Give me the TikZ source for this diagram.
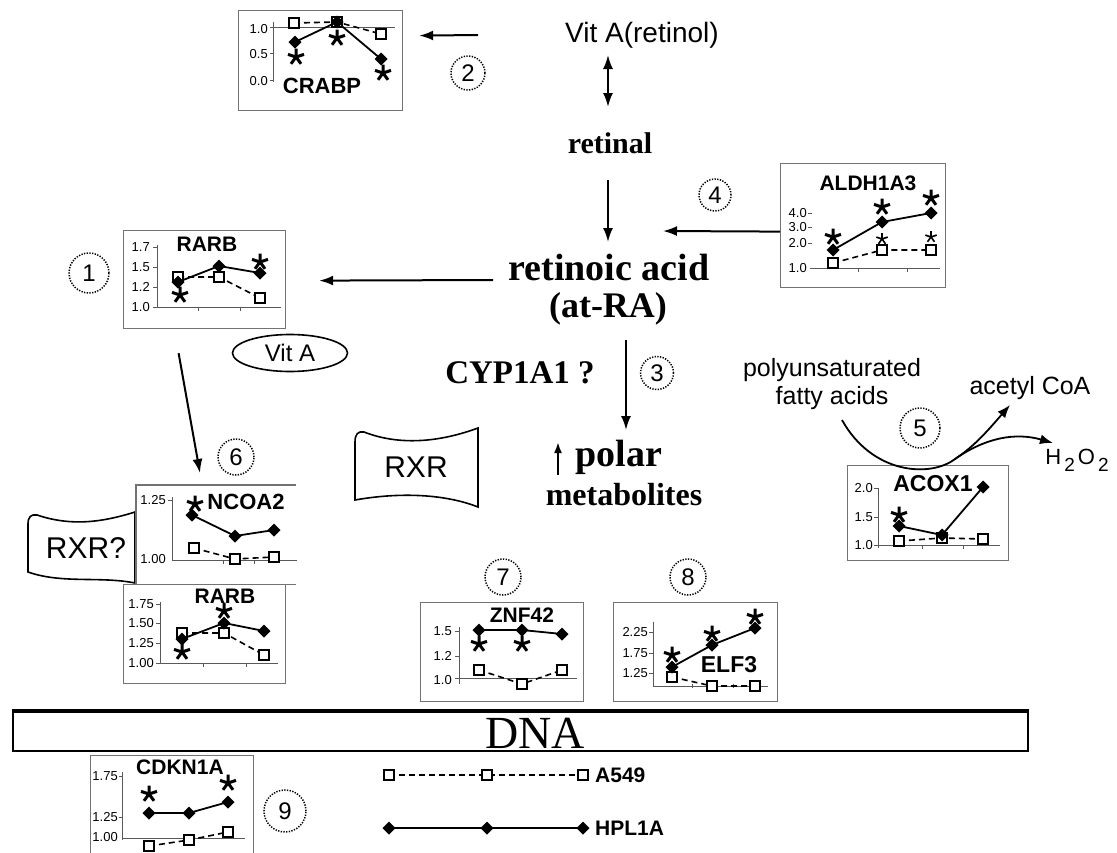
\documentclass[tikz,border=0pt]{standalone}
\usepackage{fontspec}
\setmainfont{Liberation Serif}
\setsansfont{Liberation Sans}
\usetikzlibrary{arrows.meta,shapes.geometric}
\newcommand{\fdm}[2]{\fill (#1,#2) +(0,-6.5) -- +(6.5,0) -- +(0,6.5) -- +(-6.5,0) -- cycle;}
\newcommand{\osq}[2]{\draw[line width=1.3pt,fill=white] (#1,#2) +(-5,-5) rectangle +(5,5);}
\newcommand{\astk}[2]{\draw[line width=3pt] (#1,#2) -- +(0,-8.5) (#1,#2) -- +(8,-2.6) (#1,#2) -- +(5,6.8) (#1,#2) -- +(-5,6.8) (#1,#2) -- +(-8,-2.6);}
\newcommand{\astks}[2]{\draw[line width=1.6pt] (#1,#2) -- +(0,-6) (#1,#2) -- +(5.7,-1.9) (#1,#2) -- +(3.5,4.8) (#1,#2) -- +(-3.5,4.8) (#1,#2) -- +(-5.7,-1.9);}
\begin{document}
\begin{tikzpicture}[x=1pt,y=-1pt,
 arr/.style={line width=2pt,-{Latex[length=14pt,width=10pt]}},
 box/.style={draw=black!55,line width=1.2pt,inner sep=0pt,anchor=north west},
 axl/.style={line width=0.8pt,black!65},
 lbl/.style={font=\sffamily\fontsize{13}{13}\selectfont,anchor=east,inner sep=0pt},
 ttl/.style={font=\sffamily\bfseries\fontsize{21}{21}\selectfont,inner sep=0pt},
 sline/.style={line width=1.8pt},
 dline/.style={line width=1.6pt,dash pattern=on 6pt off 4pt},
 num/.style={circle,draw,line width=1.5pt,dash pattern=on 1.3pt off 1.4pt,inner sep=0pt,font=\sffamily\fontsize{24}{24}\selectfont},
 big/.style={font=\bfseries\fontsize{32}{36}\selectfont,inner sep=0pt},
 sans/.style={font=\sffamily\fontsize{25}{28}\selectfont,inner sep=0pt,align=center},
 shp/.style={line width=1.6pt}
]
\useasboundingbox (0,0) rectangle (1117,852);

% ---------- main texts
\node[sans,font=\sffamily\fontsize{28}{30}\selectfont] (vita) at (642,35) {Vit A(retinol)};
\node[big,font=\bfseries\fontsize{30}{30}\selectfont] (retinal) at (610,143) {retinal};
\node[big,font=\bfseries\fontsize{38}{38}\selectfont] (ra) at (609,267) {retinoic acid};
\node[big,font=\bfseries\fontsize{36}{36}\selectfont] (atra) at (608,309) {(at-RA)};
\node[big,font=\bfseries\fontsize{33}{33}\selectfont] (cyp) at (520,373) {CYP1A1 ?};
\node[big,font=\bfseries\fontsize{38}{38}\selectfont] (polar) at (619,457) {polar};
\node[big] (metab) at (624,495) {metabolites};
\node[sans] (fatty) at (832,384) {polyunsaturated\\fatty acids};
\node[sans] (acetyl) at (1030,388) {acetyl CoA};
\node[sans,font=\sffamily\fontsize{22}{22}\selectfont] (h2o2) at (1077,460) {H\kern3pt\raisebox{-7pt}{\fontsize{19}{19}\selectfont 2}\kern3pt O\kern3pt\raisebox{-7pt}{\fontsize{19}{19}\selectfont 2}};

% ---------- circled numbers
\node[num,minimum size=40pt] (n1) at (89,273) {1};
\node[num,minimum size=34pt] (n2) at (468,73) {2};
\node[num,minimum size=33pt] (n3) at (657,373) {3};
\node[num,minimum size=32pt] (n4) at (715,195) {4};
\node[num,minimum size=40pt] (n5) at (920,428) {5};
\node[num,minimum size=36pt] (n6) at (236,457) {6};
\node[num,minimum size=36pt] (n7) at (503,577) {7};
\node[num,minimum size=36pt] (n8) at (688,577) {8};
\node[num,minimum size=42pt] (n9) at (285,811) {9};

% ---------- Vit A oval, RXR shapes
\node[ellipse,draw,line width=1.6pt,minimum width=115pt,minimum height=37pt,inner sep=0pt,font=\sffamily\fontsize{24}{24}\selectfont] (vitaoval) at (290,353) {Vit A};
\draw[shp] (355,442) .. controls (355,434) and (358,431) .. (364,432) .. controls (400,446) and (440,442) .. (478,428) -- (478,507) .. controls (445,494) and (400,492) .. (355,500) -- cycle;
\node[font=\sffamily\fontsize{30}{30}\selectfont,inner sep=0pt] (rxr) at (416,467) {RXR};
\draw[shp] (28,524) .. controls (28,517) and (31,514) .. (37,515) .. controls (70,526) and (100,523) .. (135,512) -- (135,583) .. controls (100,576) and (62,584) .. (28,572) -- cycle;
\node[font=\sffamily\fontsize{30}{30}\selectfont,inner sep=0pt] (rxrq) at (86,548) {RXR?};

% ---------- CRABP
\node[box,minimum width=164pt,minimum height=100pt] (crabp) at (238,10) {};
\draw[axl] (273,22) -- (273,82) (270,27) -- (395,27) (270,53) -- (273,53) (270,80) -- (273,80);
\node[lbl] at (268,29) {1.0};
\node[lbl] at (268,54) {0.5};
\node[lbl] at (268,81) {0.0};
\draw[dline] (294,23) -- (337,22) -- (381,34);
\draw[sline] (295,42) -- (337,22) -- (381,59);
\osq{294}{23}\osq{337}{22}\osq{381}{34}
\fdm{295}{42}\fdm{337}{22}\fdm{381}{59}
\astk{296}{57}\astk{337}{38}\astk{383}{73}
\node[ttl,font=\sffamily\bfseries\fontsize{22}{22}\selectfont] at (322,86) {CRABP};

% ---------- ALDH1A3
\node[box,minimum width=165pt,minimum height=124pt] (aldh) at (780,163) {};
\draw[axl] (810,268) -- (940,268) (858,268) -- (858,272) (907,268) -- (907,272);
\foreach \v/\y in {4.0/213,3.0/227,2.0/243}{\node[lbl] at (807,\y) {\v}; \draw[axl] (808,\y) -- (812,\y);}
\node[lbl] at (807,268) {1.0};
\draw[dline] (833,263) -- (882,250) -- (931,250);
\draw[sline] (833,250) -- (882,222) -- (931,213);
\osq{833}{263}\osq{882}{250}\osq{931}{250}
\fdm{833}{250}\fdm{882}{222}\fdm{931}{213}
\astk{833}{237}\astk{882}{207}\astk{931}{198}
\astks{882}{239}\astks{931}{237}
\node[ttl] at (868,183) {ALDH1A3};

% ---------- RARB (top)
\node[box,minimum width=162pt,minimum height=98pt] (rarba) at (123,230) {};
\draw[axl] (157,245) -- (157,307) (157,307) -- (281,307) (198,307) -- (198,311) (240,307) -- (240,311);
\foreach \v/\y in {1.7/247,1.5/267,1.2/287,1.0/307}{\node[lbl] at (150,\y) {\v}; \draw[axl] (153,\y) -- (157,\y);}
\draw[dline] (178,277) -- (219,277) -- (260,298);
\draw[sline] (178,282) -- (219,266) -- (260,273);
\osq{178}{277}\osq{219}{277}\osq{260}{298}
\fdm{178}{282}\fdm{219}{266}\fdm{260}{273}
\astk{180}{295}\astk{260}{262}
\node[ttl] at (207,244) {RARB};

% ---------- NCOA2
\node[inner sep=0pt,anchor=north west,minimum width=160pt,minimum height=99pt] (ncoa) at (136,485) {};
\draw[black!55,line width=1.2pt] (ncoa.north east) -- (ncoa.north west) -- (ncoa.south west) -- (ncoa.south east);
\draw[axl] (172,497) -- (172,560) (172,560) -- (297,560) (223,560) -- (223,564) (254,560) -- (254,564);
\node[lbl] at (166,500) {1.25}; \draw[axl] (168,500) -- (172,500);
\node[lbl] at (166,559) {1.00};
\draw[dline] (194,548) -- (235,559) -- (274,557);
\draw[sline] (192,515) -- (235,536) -- (274,530);
\osq{194}{548}\osq{235}{559}\osq{274}{557}
\fdm{192}{515}\fdm{235}{536}\fdm{274}{530}
\astk{195}{504}
\node[ttl,font=\sffamily\bfseries\fontsize{22}{22}\selectfont] at (246,502) {NCOA2};

% ---------- RARB (bottom)
\node[box,fill=white,minimum width=162pt,minimum height=99pt] (rarbb) at (123,584) {};
\draw[axl] (160,602) -- (160,663) (160,663) -- (278,663) (203,663) -- (203,667) (246,663) -- (246,667);
\foreach \v/\y in {1.75/604,1.50/623,1.25/643,1.00/663}{\node[lbl] at (154,\y) {\v}; \draw[axl] (156,\y) -- (160,\y);}
\draw[dline] (182,633) -- (224,633) -- (264,655);
\draw[sline] (182,639) -- (224,623) -- (264,631);
\osq{182}{633}\osq{224}{633}\osq{264}{655}
\fdm{182}{639}\fdm{224}{623}\fdm{264}{631}
\astk{182}{652}\astk{224}{611}
\node[ttl] at (225,596) {RARB};

% ---------- ZNF42
\node[box,minimum width=163pt,minimum height=99pt] (znf) at (420,602) {};
\draw[axl] (459,627) -- (459,684) (455,678) -- (577,678);
\foreach \v/\y in {1.5/631,1.2/656}{\node[lbl] at (452,\y) {\v}; \draw[axl] (455,\y) -- (459,\y);}
\node[lbl] at (452,680) {1.0};
\draw[sline] (479,630) -- (522,630) -- (562,634);
\draw[dline] (479,670) -- (522,684) -- (562,670);
\osq{479}{670}\osq{522}{684}\osq{562}{670}
\fdm{479}{630}\fdm{522}{630}\fdm{562}{634}
\astk{479}{644}\astk{522}{644}
\node[ttl] at (522,615) {ZNF42};

% ---------- ELF3
\node[box,minimum width=164pt,minimum height=99pt] (elf) at (613,602) {};
\draw[axl] (653,622) -- (653,686) (653,686) -- (768,686) (692,684) -- (692,688) (733,684) -- (733,688);
\foreach \v/\y in {2.25/632,1.75/653,1.25/673}{\node[lbl] at (648,\y) {\v}; \draw[axl] (649,\y) -- (653,\y);}
\draw[sline] (672,667) -- (712,645) -- (755,628);
\draw[dline] (672,677) -- (712,686) -- (755,686);
\osq{672}{677}\osq{712}{686}\osq{755}{686}
\fdm{672}{667}\fdm{712}{645}\fdm{755}{628}
\astk{672}{655}\astk{712}{634}\astk{755}{617}
\node[ttl,font=\sffamily\bfseries\fontsize{23}{23}\selectfont] at (729,665) {ELF3};

% ---------- ACOX1
\node[box,minimum width=161pt,minimum height=95pt] (acox) at (847,465) {};
\draw[axl] (878,488) -- (878,548) (878,545) -- (1000,545) (922,545) -- (922,549) (963,545) -- (963,549);
\foreach \v/\y in {2.0/488,1.5/517,1.0/545}{\node[lbl] at (873,\y) {\v}; \draw[axl] (874,\y) -- (878,\y);}
\draw[sline] (899,526) -- (942,535) -- (983,487);
\draw[dline] (899,541) -- (942,538) -- (983,539);
\osq{899}{541}\osq{942}{538}\osq{983}{539}
\fdm{899}{526}\fdm{942}{535}\fdm{983}{487}
\astk{899}{515}
\node[ttl,font=\sffamily\bfseries\fontsize{23}{23}\selectfont] at (933,484) {ACOX1};

% ---------- DNA
\node[draw,line width=2pt,inner sep=0pt,anchor=north west,minimum width=1015pt,minimum height=39pt] (dna) at (12,711) {};
\draw[line width=3.5pt] (dna.north west) -- (dna.north east);
\node[font=\fontsize{46}{46}\selectfont,inner sep=0pt] (dnatxt) at (535,733) {DNA};

% ---------- CDKN1A
\node[box,minimum width=163pt,minimum height=110pt] (cdkn) at (90,755) {};
\draw[axl] (122,772) -- (122,840) (122,838) -- (245,838);
\foreach \v/\y in {1.75/776,1.25/817}{\node[lbl] at (118,\y) {\v}; \draw[axl] (119,\y) -- (122,\y);}
\node[lbl] at (118,837) {1.00};
\draw[sline] (149,813) -- (189,813) -- (228,802);
\draw[dline] (149,846) -- (189,840) -- (228,832);
\osq{149}{846}\osq{189}{840}\osq{228}{832}
\fdm{149}{813}\fdm{189}{813}\fdm{228}{802}
\astk{149}{794}\astk{228}{783}
\node[ttl] at (180,767) {CDKN1A};

% ---------- legend
\draw[dline] (389,775) -- (583,775);
\osq{389}{775}\osq{487}{775}\osq{583}{775}
\draw[sline] (389,828) -- (583,828);
\fdm{389}{828}\fdm{487}{828}\fdm{583}{828}
\node[ttl,anchor=west] (la) at (595,775) {A549};
\node[ttl,anchor=west] (lh) at (595,828) {HPL1A};

% ---------- connectors
\draw[line width=2pt,{Latex[length=14pt,width=10pt]}-{Latex[length=14pt,width=10pt]}] ([xshift=-34pt,yshift=-20pt]vita.center) -- ([xshift=-2pt,yshift=36pt]retinal.center);
\draw[arr] ([xshift=-164pt]vita.center) -- ([xshift=16pt,yshift=25pt]crabp.east);
\draw[arr] ([xshift=-2pt,yshift=-37pt]retinal.center) -- ([xshift=-1pt,yshift=25pt]ra.center);
\draw[arr] ([yshift=-6pt]aldh.west) -- ([xshift=54pt,yshift=36pt]ra.center);
\draw[arr] ([xshift=-116pt,yshift=-13pt]ra.center) -- ([xshift=33pt,yshift=-1pt]rarba.east);
\draw[arr] ([xshift=18pt,yshift=-31pt]atra.center) -- ([xshift=7pt,yshift=27pt]polar.center);
\draw[line width=2pt,-{Latex[length=11pt,width=8pt]}] ([xshift=-61pt,yshift=-18pt]polar.center) -- ([xshift=-61pt,yshift=15pt]polar.center);
\draw[arr] ([xshift=-26pt,yshift=-24pt]rarba.south) -- ([xshift=64pt,yshift=12pt]ncoa.north west);
\coordinate (junc) at (955,459);
\draw[line width=1.8pt,-{Latex[length=13pt,width=10pt]}] ([xshift=10pt,yshift=-36pt]fatty.center) .. controls (872,474) and (930,478) .. (junc) .. controls (975,446) and (990,428) .. ([xshift=-20pt,yshift=-17pt]acetyl.center);
\draw[line width=1.8pt,-{Latex[length=13pt,width=10pt]}] (junc) .. controls (985,438) and (1015,432) .. ([xshift=-24pt,yshift=17pt]h2o2.center);
\end{tikzpicture}
\end{document}
